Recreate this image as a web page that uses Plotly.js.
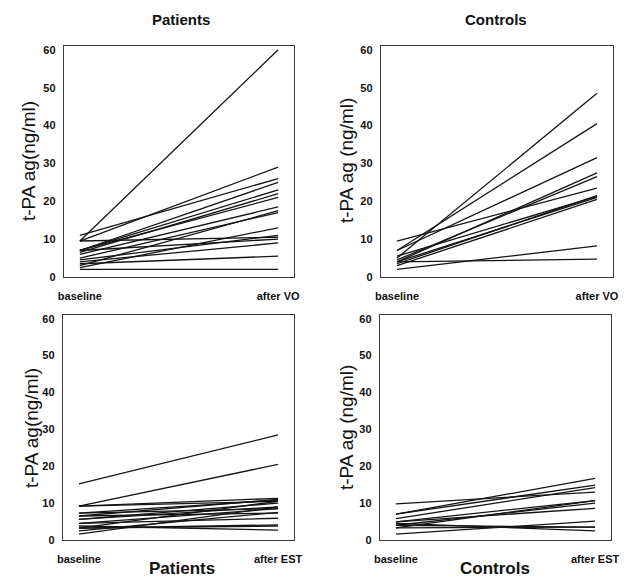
<!DOCTYPE html>
<html>
<head>
<meta charset="utf-8">
<script src="https://cdn.plot.ly/plotly-3.0.1.min.js"></script>
<style>html,body{margin:0;padding:0;background:#fff;}#chart{width:627px;height:580px;}</style>
</head>
<body>
<div id="chart"></div>
<script>
// Categories
const categoriesVO = ["baseline", "after VO"];
const categoriesEST = ["baseline", "after EST"];

// Patients, venous occlusion (top left)
const patientsVOBaseline = [9.5, 11, 9.5, 7, 7, 6.5, 7, 6, 3, 5, 2.5, 9.5, 7, 4, 3.5, 2, 4.5];
const patientsVOAfter    = [60, 26, 29, 25, 23, 22, 21, 18.5, 17.5, 17, 13, 10.5, 10, 9, 5.5, 2, 11];

// Controls, venous occlusion (top right)
const controlsVOBaseline = [5, 7, 7, 9.5, 4, 4.5, 3.5, 4, 3, 2, 4, 5.5];
const controlsVOAfter    = [48.5, 40.5, 31.5, 23.5, 27.5, 26.5, 21.5, 21, 20.5, 8.2, 4.7, 21.3];

// Patients, exercise stress test (bottom left)
const patientsESTBaseline = [15.2, 9.2, 9.2, 9.2, 7.3, 7.3, 6.5, 6.5, 5.6, 5.6, 4.5, 4.5, 3.2, 3.2, 3.2, 2.5, 1.6, 3.8];
const patientsESTAfter    = [28.5, 20.5, 11.3, 10.5, 10.8, 8.5, 11, 7.3, 10, 9, 8.5, 5.9, 10.5, 4.1, 3.8, 7.5, 9, 2.7];

// Controls, exercise stress test (bottom right)
const controlsESTBaseline = [9.8, 7, 7, 5.8, 4.9, 4, 4.9, 3.3, 4, 4.5, 1.6, 3.3];
const controlsESTAfter    = [13, 16.7, 14.9, 14.2, 10.7, 10, 8.6, 10.7, 3.5, 2.5, 5.1, 3.5];

const yTickVals = [0, 10, 20, 30, 40, 50, 60];

const FONT = "Liberation Sans, Arial, sans-serif";
const traces = [];
function addPanel(cats, base, after, xa, ya) {
  for (let i = 0; i < base.length; i++) {
    traces.push({
      type: "scatter", mode: "lines",
      x: cats, y: [base[i], after[i]],
      xaxis: xa, yaxis: ya,
      line: {color: "#141414", width: 1.3},
      showlegend: false, hoverinfo: "skip"
    });
  }
}
addPanel(categoriesVO, patientsVOBaseline, patientsVOAfter, "x", "y");
addPanel(categoriesVO, controlsVOBaseline, controlsVOAfter, "x2", "y2");
addPanel(categoriesEST, patientsESTBaseline, patientsESTAfter, "x3", "y3");
addPanel(categoriesEST, controlsESTBaseline, controlsESTAfter, "x4", "y4");

function xax(dom, anchor) {
  return {
    domain: dom, anchor: anchor, type: "category",
    range: [-0.08, 1.08], showgrid: false, zeroline: false,
    showline: true, mirror: true, linecolor: "#3a3a3a", linewidth: 1.2,
    ticks: "", ticklabelstandoff: 9,
    tickfont: {family: FONT, size: 11, color: "#111", weight: "bold"},
    fixedrange: true
  };
}
function yax(dom, anchor) {
  return {
    domain: dom, anchor: anchor, range: [0, 61],
    tickvals: yTickVals, showgrid: false, zeroline: false,
    showline: true, mirror: true, linecolor: "#3a3a3a", linewidth: 1.2,
    ticks: "", ticklabelstandoff: 5,
    tickfont: {family: FONT, size: 11, color: "#111", weight: "bold"},
    fixedrange: true
  };
}
const W = 627, H = 580;
const px = v => v / W, py = v => 1 - v / H;

function ann(text, x, y, size, bold, angle) {
  return {
    text: text, x: px(x), y: py(y), xref: "paper", yref: "paper", showarrow: false,
    xanchor: "center", yanchor: "middle", textangle: angle || 0,
    font: {family: FONT, size: size, color: "#111", weight: bold ? "bold" : "normal"}
  };
}

const layout = {
  width: W, height: H,
  margin: {l: 0, r: 0, t: 0, b: 0},
  paper_bgcolor: "#fff", plot_bgcolor: "#fff",
  showlegend: false,
  xaxis:  xax([px(64), px(294)], "y"),
  yaxis:  yax([py(277), py(46)], "x"),
  xaxis2: xax([px(381), px(613)], "y2"),
  yaxis2: yax([py(277), py(46)], "x2"),
  xaxis3: xax([px(63), px(294)], "y3"),
  yaxis3: yax([py(540), py(315)], "x3"),
  xaxis4: xax([px(380), px(611)], "y4"),
  yaxis4: yax([py(540), py(315)], "x4"),
  annotations: [
    ann("Patients", 181, 19, 15, true),
    ann("Controls", 496, 19, 15, true),
    ann("Patients", 182, 568, 17, true),
    ann("Controls", 495, 568, 17, true),
    ann("t-PA ag(ng/ml)", 28, 161, 19, false, -90),
    ann("t-PA ag (ng/ml)", 346, 161, 19, false, -90),
    ann("t-PA ag(ng/ml)", 31, 428, 19, false, -90),
    ann("t-PA ag (ng/ml)", 346, 428, 19, false, -90)
  ]
};

Plotly.newPlot("chart", traces, layout, {staticPlot: true, displayModeBar: false});
</script>
</body>
</html>
